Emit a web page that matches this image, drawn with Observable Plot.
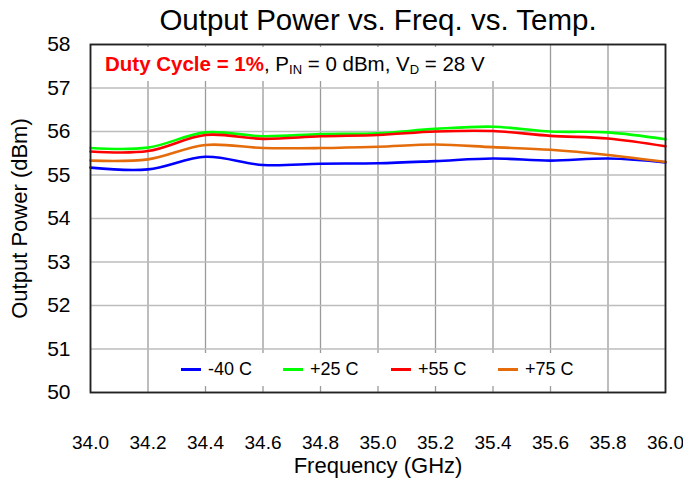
<!DOCTYPE html>
<html>
<head>
<meta charset="utf-8">
<script src="https://cdn.jsdelivr.net/npm/d3@7"></script>
<script src="https://cdn.jsdelivr.net/npm/@observablehq/plot@0.6"></script>
<style>
  html, body { margin: 0; padding: 0; background: white; }
  #wrap { position: relative; width: 683px; height: 485px; font-family: "Liberation Sans", Arial, sans-serif; }
  #sub { position: absolute; left: 92px; top: 47px; width: 412px; height: 34px; background: white; font-size: 20.5px; line-height: 34px; padding-left: 13px; box-sizing: border-box; white-space: nowrap; color: #000; }
  #sub b { color: #ff0000; }
  #sub sub { font-size: 13px; vertical-align: -3px; line-height: 0; }
  #legend { position: absolute; left: 166px; top: 353px; width: 426px; height: 33px; background: white; font-size: 18px; }
  .item { position: absolute; top: 0; height: 33px; line-height: 33px; white-space: nowrap; }
  .item span.sw { display: inline-block; width: 20px; height: 2.6px; vertical-align: middle; margin-right: 7px; position: relative; top: -1px; }
</style>
</head>
<body>
<div id="wrap"></div>
<script>
const freq = [34.0, 34.2, 34.4, 34.6, 34.8, 35.0, 35.2, 35.4, 35.6, 35.8, 36.0];
const m40 = [55.17, 55.13, 55.42, 55.23, 55.26, 55.27, 55.32, 55.38, 55.33, 55.38, 55.29];
const p25 = [55.62, 55.63, 55.98, 55.89, 55.94, 55.96, 56.06, 56.11, 56.00, 55.98, 55.82];
const p55 = [55.54, 55.55, 55.92, 55.83, 55.89, 55.92, 56.00, 56.01, 55.90, 55.84, 55.66];
const p75 = [55.33, 55.36, 55.69, 55.62, 55.62, 55.65, 55.70, 55.64, 55.58, 55.46, 55.30];
const seriesNames = ["-40 C", "+25 C", "+55 C", "+75 C"];
const seriesColors = ["#0000ff", "#00ff00", "#ff0000", "#e46c0a"];
const xTicks = [34.0, 34.2, 34.4, 34.6, 34.8, 35.0, 35.2, 35.4, 35.6, 35.8, 36.0];
const yTicks = [50, 51, 52, 53, 54, 55, 56, 57, 58];
const titleText = "Output Power vs. Freq. vs. Temp.";
const xLabel = "Frequency (GHz)";
const yLabel = "Output Power (dBm)";

const seriesValues = [m40, p25, p55, p75];
const rows = [];
seriesValues.forEach((vals, si) => vals.forEach((v, i) => rows.push({series: seriesNames[si], freq: freq[i], power: v})));

const chart = Plot.plot({
  width: 683,
  height: 485,
  marginLeft: 90,
  marginRight: 18,
  marginTop: 44,
  marginBottom: 93,
  x: {domain: [34, 36]},
  y: {domain: [50, 58]},
  color: {domain: seriesNames, range: seriesColors},
  style: {fontFamily: "'Liberation Sans', Arial, sans-serif", background: "white", color: "black"},
  marks: [
    Plot.gridX(xTicks, {stroke: "#9a9a9a", strokeOpacity: 1, strokeWidth: 1.3}),
    Plot.gridY(yTicks, {stroke: "#bdbdbd", strokeOpacity: 1, strokeWidth: 1.6}),
    Plot.line(rows, {x: "freq", y: "power", z: "series", stroke: "series", curve: "catmull-rom", strokeWidth: 2.6}),
    Plot.frame({stroke: "#222", strokeWidth: 1.8}),
    Plot.axisX(xTicks, {tickSize: 0, tickPadding: 43, fontSize: 19, tickFormat: d => d.toFixed(1), label: null}),
    Plot.axisY(yTicks, {tickSize: 0, tickPadding: 20, fontSize: 21, label: null}),
    Plot.text([yLabel], {text: d => d, frameAnchor: "left", textAnchor: "middle", dx: -71, rotate: -90, fontSize: 22}),
    Plot.text([xLabel], {text: d => d, frameAnchor: "bottom", dy: 80, fontSize: 22}),
    Plot.text([titleText], {text: d => d, frameAnchor: "top", dy: -35, fontSize: 29.5})
  ]
});
const wrap = document.getElementById("wrap");
wrap.appendChild(chart);

const sub = document.createElement("div");
sub.id = "sub";
sub.innerHTML = "<b>Duty Cycle = 1%</b>, P<sub>IN</sub> = 0 dBm, V<sub>D</sub> = 28 V";
wrap.appendChild(sub);

const legend = document.createElement("div");
legend.id = "legend";
const legendLeft = [15, 117, 225, 332];
seriesNames.forEach((name, i) => {
  const it = document.createElement("div");
  it.className = "item";
  it.style.left = legendLeft[i] + "px";
  it.innerHTML = `<span class="sw" style="background:${seriesColors[i]}"></span>${name}`;
  legend.appendChild(it);
});
wrap.appendChild(legend);
</script>
</body>
</html>
